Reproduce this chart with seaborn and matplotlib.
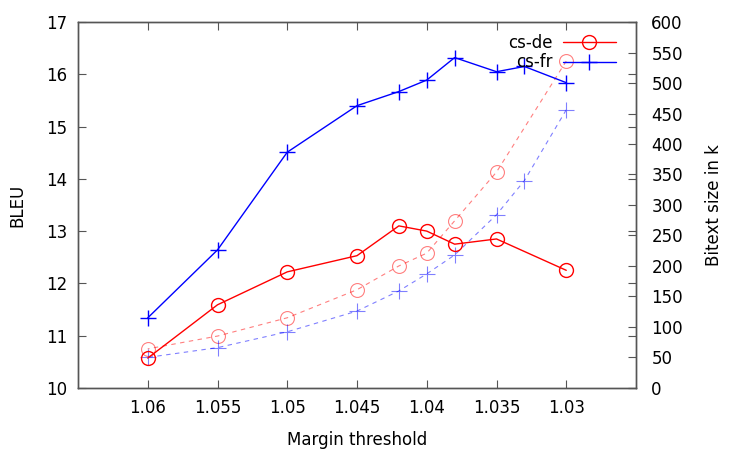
import numpy as np
import pandas as pd
import matplotlib
matplotlib.use('Agg')
import matplotlib.pyplot as plt
import seaborn as sns

# Margin thresholds (x axis, reversed)
thr_de = [1.06, 1.055, 1.05, 1.045, 1.042, 1.04, 1.038, 1.035, 1.03]
thr_fr = [1.06, 1.055, 1.05, 1.045, 1.042, 1.04, 1.038, 1.035, 1.033, 1.03]

# BLEU scores (left axis)
bleu_de = [10.57, 11.59, 12.22, 12.53, 13.10, 13.00, 12.75, 12.85, 12.25]
bleu_fr = [11.34, 12.64, 14.51, 15.40, 15.67, 15.89, 16.32, 16.05, 16.15, 15.84]

# Bitext size in k (right axis)
size_de = [64, 85, 115, 161, 200, 221, 274, 354, 536]
size_fr = [50, 66, 92, 126, 159, 187, 218, 284, 340, 456]

xticks = [1.06, 1.055, 1.05, 1.045, 1.04, 1.035, 1.03]
xtick_labels = ['1.06', '1.055', '1.05', '1.045', '1.04', '1.035', '1.03']

sns.set_style('ticks')
plt.rcParams['font.family'] = ['DejaVu Sans']
plt.rcParams['text.color'] = 'black'
plt.rcParams['axes.labelcolor'] = 'black'

fig, ax = plt.subplots(figsize=(7.5, 4.5), dpi=100)
fig.subplots_adjust(left=0.104, right=0.848, top=0.951, bottom=0.138)
ax2 = ax.twinx()

# bitext size, dashed and faded
sns.lineplot(x=thr_de, y=size_de, ax=ax2, color='red', alpha=0.5, linewidth=0.8,
             linestyle=(0, (4, 4)), marker='o', markersize=10, markerfacecolor='none',
             markeredgecolor='red', markeredgewidth=0.8)
sns.lineplot(x=thr_fr, y=size_fr, ax=ax2, color='blue', alpha=0.5, linewidth=0.8,
             linestyle=(0, (4, 4)), marker='+', markersize=11, markeredgewidth=0.8,
             markeredgecolor='blue')

# BLEU, solid
sns.lineplot(x=thr_de, y=bleu_de, ax=ax, color='red', linewidth=1, marker='o',
             markersize=10, markerfacecolor='none', markeredgecolor='red',
             markeredgewidth=1, label='cs-de')
sns.lineplot(x=thr_fr, y=bleu_fr, ax=ax, color='blue', linewidth=1, marker='+',
             markersize=11, markeredgewidth=1, markeredgecolor='blue', label='cs-fr')

ax.set_xlim(1.065, 1.025)
ax.set_ylim(10, 17)
ax2.set_ylim(0, 600)
ax.set_xticks(xticks)
ax.set_xticklabels(xtick_labels)
ax.set_yticks(range(10, 18))
ax2.set_yticks(range(0, 601, 50))

ax.set_xlabel('Margin threshold', fontsize=12, labelpad=10)
ax.set_ylabel('BLEU', fontsize=12, labelpad=14)
ax2.set_ylabel('Bitext size in k', fontsize=12, labelpad=16)

ax.tick_params(axis='both', direction='in', labelsize=12, length=6, width=0.8,
               color='#555555', labelcolor='black', top=True, pad=8)
ax.tick_params(axis='y', right=True, labelright=False)
ax2.tick_params(axis='y', direction='in', labelsize=12, length=6, width=0.8,
                color='#555555', labelcolor='black', pad=11)

for a in (ax, ax2):
    for s in a.spines.values():
        s.set_color('#555555')
        s.set_linewidth(1)

leg = ax.legend(loc='upper right', frameon=False, markerfirst=False, fontsize=12,
                handlelength=3.2, borderaxespad=0.3, labelspacing=0.1,
                handletextpad=0.6, bbox_to_anchor=(0.985, 1.0))
ax2.set_zorder(0)
ax.set_zorder(1)
ax.patch.set_visible(False)

fig.savefig('out.png', dpi=100)
